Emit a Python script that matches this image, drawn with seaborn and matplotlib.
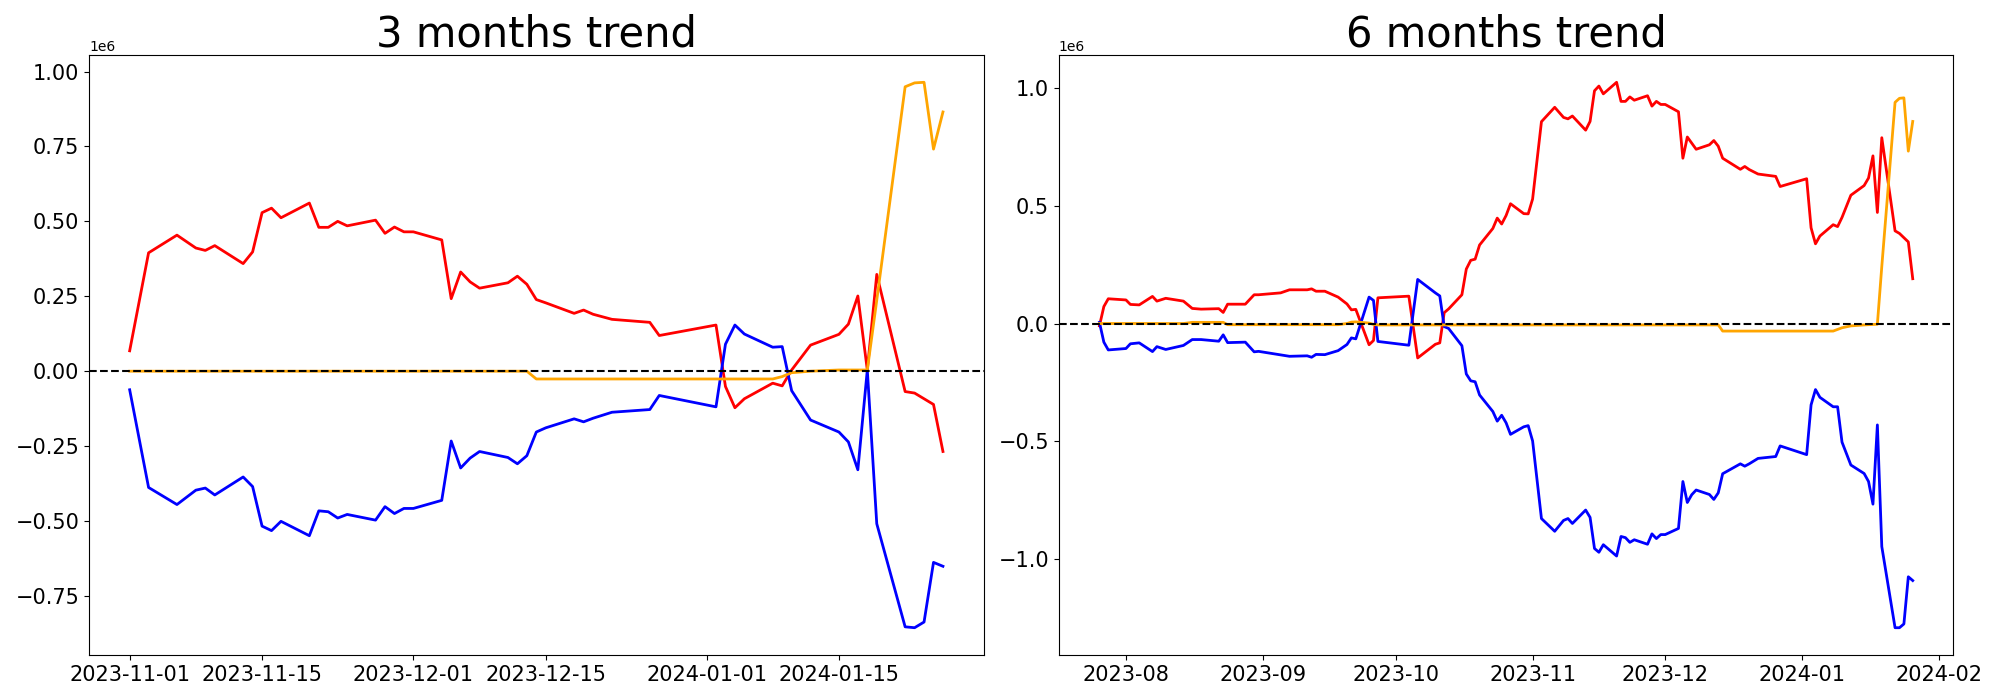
import pandas as pd
import matplotlib
matplotlib.use("Agg")
import matplotlib.pyplot as plt
import seaborn as sns

'''Data read off the reference (values in units of 1e6)'''

# 3 months window
dates_3m = ["2023-11-01", "2023-11-03", "2023-11-06", "2023-11-08", "2023-11-09",
            "2023-11-10", "2023-11-13", "2023-11-14", "2023-11-15", "2023-11-16",
            "2023-11-17", "2023-11-20", "2023-11-21", "2023-11-22", "2023-11-23",
            "2023-11-24", "2023-11-27", "2023-11-28", "2023-11-29", "2023-11-30",
            "2023-12-01", "2023-12-04", "2023-12-05", "2023-12-06", "2023-12-07",
            "2023-12-08", "2023-12-11", "2023-12-12", "2023-12-13", "2023-12-14",
            "2023-12-15", "2023-12-18", "2023-12-19", "2023-12-20", "2023-12-22",
            "2023-12-26", "2023-12-27", "2024-01-02", "2024-01-03", "2024-01-04",
            "2024-01-05", "2024-01-08", "2024-01-09", "2024-01-10", "2024-01-12",
            "2024-01-15", "2024-01-16", "2024-01-17", "2024-01-18", "2024-01-19",
            "2024-01-22", "2024-01-23", "2024-01-24", "2024-01-25", "2024-01-26"]
red_3m = [0.068, 0.395, 0.454, 0.411, 0.403, 0.419, 0.359, 0.398, 0.529, 0.544,
          0.512, 0.561, 0.480, 0.480, 0.500, 0.485, 0.504, 0.460, 0.481, 0.465,
          0.465, 0.438, 0.242, 0.331, 0.298, 0.277, 0.295, 0.317, 0.290, 0.239,
          0.228, 0.193, 0.204, 0.190, 0.173, 0.163, 0.119, 0.154, -0.051, -0.122,
          -0.092, -0.040, -0.049, 0.004, 0.087, 0.123, 0.157, 0.251, 0.004, 0.323,
          -0.068, -0.073, -0.092, -0.111, -0.268]
blue_3m = [-0.062, -0.388, -0.445, -0.397, -0.390, -0.413, -0.353, -0.385, -0.517, -0.532,
           -0.501, -0.549, -0.466, -0.469, -0.490, -0.478, -0.497, -0.452, -0.475, -0.458,
           -0.458, -0.431, -0.233, -0.323, -0.290, -0.268, -0.288, -0.309, -0.282, -0.203,
           -0.189, -0.159, -0.169, -0.157, -0.137, -0.128, -0.081, -0.119, 0.090, 0.154,
           0.124, 0.080, 0.082, -0.065, -0.163, -0.203, -0.236, -0.329, 0.004, -0.509,
           -0.853, -0.856, -0.837, -0.638, -0.651]
orange_3m = [0.0, 0.0, 0.0, 0.0, 0.0, 0.0, 0.0, 0.0, 0.0, 0.0,
             0.0, 0.0, 0.0, 0.0, 0.0, 0.0, 0.0, 0.0, 0.0, 0.0,
             0.0, 0.0, 0.0, 0.0, 0.0, 0.0, 0.0, 0.0, 0.0, -0.026,
             -0.026, -0.026, -0.026, -0.026, -0.026, -0.026, -0.026, -0.026, -0.026, -0.026,
             -0.026, -0.026, -0.018, -0.005, 0.0, 0.004, 0.004, 0.004, 0.004, 0.237,
             0.949, 0.962, 0.964, 0.741, 0.865]

# 6 months window
dates_6m = ["2023-07-26", "2023-07-27", "2023-07-28", "2023-08-01", "2023-08-02",
            "2023-08-04", "2023-08-07", "2023-08-08", "2023-08-10", "2023-08-14",
            "2023-08-16", "2023-08-18", "2023-08-22", "2023-08-23", "2023-08-24",
            "2023-08-28", "2023-08-30", "2023-08-31", "2023-09-05", "2023-09-07",
            "2023-09-11", "2023-09-12", "2023-09-13", "2023-09-15", "2023-09-18",
            "2023-09-20", "2023-09-21", "2023-09-22", "2023-09-25", "2023-09-26",
            "2023-09-27", "2023-10-04", "2023-10-06", "2023-10-10", "2023-10-11",
            "2023-10-12", "2023-10-13", "2023-10-16", "2023-10-17", "2023-10-18",
            "2023-10-19", "2023-10-20", "2023-10-23", "2023-10-24", "2023-10-25",
            "2023-10-26", "2023-10-27", "2023-10-30", "2023-10-31", "2023-11-01",
            "2023-11-03", "2023-11-06", "2023-11-08", "2023-11-09", "2023-11-10",
            "2023-11-13", "2023-11-14", "2023-11-15", "2023-11-16", "2023-11-17",
            "2023-11-20", "2023-11-21", "2023-11-22", "2023-11-23", "2023-11-24",
            "2023-11-27", "2023-11-28", "2023-11-29", "2023-11-30", "2023-12-01",
            "2023-12-04", "2023-12-05", "2023-12-06", "2023-12-07", "2023-12-08",
            "2023-12-11", "2023-12-12", "2023-12-13", "2023-12-14", "2023-12-18",
            "2023-12-19", "2023-12-20", "2023-12-22", "2023-12-26", "2023-12-27",
            "2024-01-02", "2024-01-03", "2024-01-04", "2024-01-05", "2024-01-08",
            "2024-01-09", "2024-01-10", "2024-01-12", "2024-01-15", "2024-01-16",
            "2024-01-17", "2024-01-18", "2024-01-19", "2024-01-22", "2024-01-23",
            "2024-01-24", "2024-01-25", "2024-01-26"]
red_6m = [-0.010, 0.072, 0.105, 0.100, 0.081, 0.079, 0.115, 0.095, 0.107, 0.095,
          0.064, 0.061, 0.063, 0.047, 0.082, 0.082, 0.122, 0.122, 0.130, 0.143,
          0.143, 0.147, 0.137, 0.137, 0.112, 0.083, 0.058, 0.060, -0.090, -0.072,
          0.109, 0.116, -0.146, -0.088, -0.082, 0.046, 0.062, 0.122, 0.231, 0.268,
          0.273, 0.333, 0.403, 0.447, 0.422, 0.458, 0.508, 0.466, 0.465, 0.528,
          0.856, 0.917, 0.874, 0.868, 0.880, 0.820, 0.857, 0.987, 1.007, 0.974,
          1.023, 0.942, 0.942, 0.961, 0.947, 0.966, 0.922, 0.942, 0.929, 0.929,
          0.898, 0.701, 0.791, 0.765, 0.739, 0.758, 0.776, 0.752, 0.701, 0.654,
          0.666, 0.653, 0.634, 0.624, 0.581, 0.614, 0.406, 0.338, 0.371, 0.419,
          0.411, 0.450, 0.544, 0.585, 0.617, 0.711, 0.471, 0.788, 0.393, 0.382,
          0.364, 0.346, 0.190]
blue_6m = [0.005, -0.079, -0.112, -0.106, -0.086, -0.082, -0.119, -0.098, -0.110, -0.093,
           -0.068, -0.068, -0.075, -0.048, -0.081, -0.079, -0.120, -0.118, -0.133, -0.139,
           -0.137, -0.143, -0.131, -0.132, -0.115, -0.089, -0.061, -0.065, 0.112, 0.098,
           -0.076, -0.092, 0.187, 0.130, 0.117, -0.013, -0.021, -0.094, -0.214, -0.243,
           -0.247, -0.303, -0.373, -0.414, -0.389, -0.421, -0.470, -0.438, -0.433, -0.498,
           -0.827, -0.881, -0.835, -0.827, -0.848, -0.791, -0.822, -0.954, -0.970, -0.938,
           -0.986, -0.903, -0.908, -0.928, -0.917, -0.936, -0.892, -0.912, -0.895, -0.895,
           -0.869, -0.670, -0.759, -0.726, -0.706, -0.725, -0.746, -0.718, -0.637, -0.595,
           -0.605, -0.595, -0.572, -0.564, -0.519, -0.556, -0.345, -0.280, -0.313, -0.353,
           -0.353, -0.503, -0.600, -0.636, -0.670, -0.766, -0.430, -0.946, -1.290, -1.290,
           -1.274, -1.074, -1.090]
orange_6m = [0.0, 0.0, 0.0, 0.0, 0.0, 0.0, 0.0, 0.0, 0.0, 0.0,
             0.005, 0.005, 0.005, 0.005, -0.005, -0.005, -0.005, -0.005, -0.005, -0.005,
             -0.005, -0.005, -0.005, -0.005, -0.005, 0.0, 0.006, 0.007, 0.002, -0.004,
             -0.006, -0.006, -0.006, -0.006, -0.006, -0.006, -0.006, -0.006, -0.006, -0.006,
             -0.006, -0.006, -0.006, -0.006, -0.006, -0.006, -0.006, -0.006, -0.006, -0.006,
             -0.006, -0.006, -0.006, -0.006, -0.006, -0.006, -0.006, -0.006, -0.006, -0.006,
             -0.006, -0.006, -0.006, -0.006, -0.006, -0.006, -0.006, -0.006, -0.006, -0.006,
             -0.006, -0.006, -0.006, -0.006, -0.006, -0.006, -0.006, -0.006, -0.032, -0.032,
             -0.032, -0.032, -0.032, -0.032, -0.032, -0.032, -0.032, -0.032, -0.032, -0.032,
             -0.025, -0.018, -0.010, -0.006, -0.005, -0.004, -0.003, 0.242, 0.938, 0.955,
             0.957, 0.731, 0.857]

SCALE = 1e6


def draw_trend(ax, dates, red, blue, orange, title):
    '''Plot the three series of one window with a dashed zero line'''
    x = pd.to_datetime(dates)
    for vals, col in [(red, 'red'), (blue, 'blue'), (orange, 'orange')]:
        y = [v * SCALE for v in vals]
        sns.lineplot(x=x, y=y, color=col, linewidth=2, estimator=None, ax=ax)
    ax.axhline(0, color='black', linestyle='--', linewidth=1.5)
    ax.set_title(title, fontsize=30)
    ax.set_xlabel("")
    ax.set_ylabel("")
    ax.tick_params(labelsize=15)
    ax.yaxis.get_offset_text().set_fontsize(10)


fig, (ax_3m, ax_6m) = plt.subplots(nrows=1, ncols=2, figsize=(20, 7), dpi=100)
draw_trend(ax_3m, dates_3m, red_3m, blue_3m, orange_3m, '3 months trend')
draw_trend(ax_6m, dates_6m, red_6m, blue_6m, orange_6m, '6 months trend')
fig.subplots_adjust(left=0.0445, right=0.9767, bottom=0.0643, top=0.9214, wspace=0.084)
fig.savefig('out.png', dpi=100)
